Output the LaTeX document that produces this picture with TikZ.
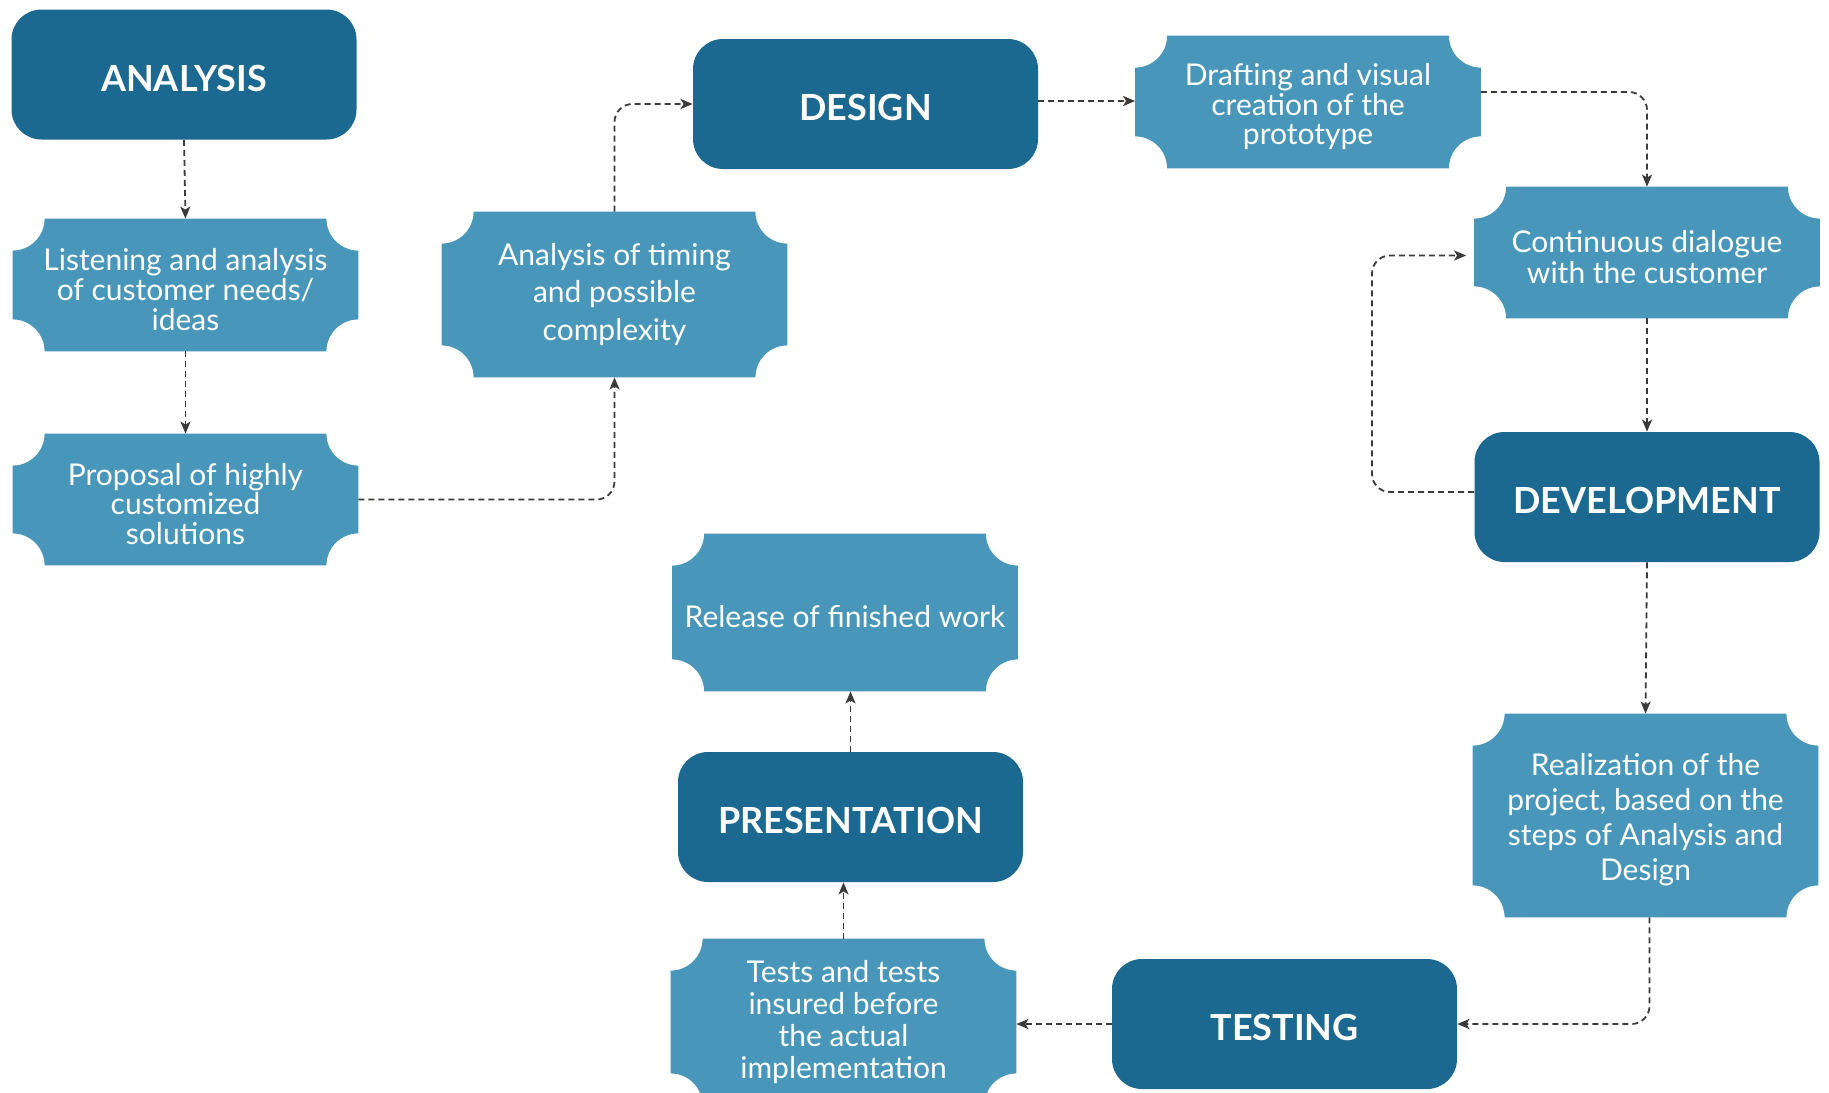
\documentclass[tikz,border=0pt]{standalone}
\usepackage{fontspec}
\setmainfont{Lato}
\usetikzlibrary{arrows.meta,backgrounds}
\definecolor{darkblue}{HTML}{1B6890}
\definecolor{lightblue}{HTML}{4897BA}
\definecolor{arrowgray}{HTML}{3A3A3A}
\newcommand\ticketshape[1]{%
  \fill[lightblue] ([xshift=16pt]#1.north west) -- ([xshift=-16pt]#1.north east)
    arc[start angle=180,end angle=270,radius=16pt]
    -- ([yshift=16pt]#1.south east)
    arc[start angle=90,end angle=180,radius=16pt]
    -- ([xshift=16pt]#1.south west)
    arc[start angle=0,end angle=90,radius=16pt]
    -- ([yshift=-16pt]#1.north west)
    arc[start angle=270,end angle=360,radius=16pt] -- cycle;}
\newcommand\hs{\rule{0pt}{16.9pt}}
\newcommand\ts{\rule{0pt}{15.6pt}}
\begin{document}
\begin{tikzpicture}[x=0.5pt,y=-0.5pt,
  head/.style={fill=darkblue, rounded corners=15pt, text=white,
    font=\bfseries\fontsize{18}{20}\selectfont, minimum width=172.5pt,
    minimum height=65pt, inner sep=0pt},
  ticket/.style={text=white, align=center, font=\fontsize{15}{14.8}\selectfont,
    minimum width=172.5pt, inner sep=0pt},
  conn/.style={draw=arrowgray, line width=0.9pt, dash pattern=on 3pt off 2pt,
    -{Stealth[length=6pt,width=5pt,inset=1.5pt]}, rounded corners=9pt}]
\useasboundingbox (0,0) rectangle (1829,1092);
% main steps
\node[head] (ana) at (184,74.5) {\hs ANALYSIS};
\node[head] (des) at (865.5,104) {\hs DESIGN};
\node[head] (dev) at (1647,497) {\hs DEVELOPMENT};
\node[head] (tst) at (1284.5,1024) {\hs TESTING};
\node[head] (pre) at (850.5,817) {\hs PRESENTATION};
% sub steps
\node[ticket, minimum height=66pt] (lis) at (185.5,285) {\ts Listening and analysis\\of customer needs/\\ideas};
\node[ticket, minimum height=65.5pt] (pro) at (185.5,499.5) {\ts Proposal of highly\\customized\\solutions};
\node[ticket, minimum height=82.5pt, font=\fontsize{15}{18.6}\selectfont] (tim) at (614.5,294.5) {Analysis of timing\\and possible\\complexity};
\node[ticket, minimum height=66pt, font=\fontsize{15}{14.9}\selectfont] (dra) at (1308,102) {\ts Drafting and visual\\creation of the\\prototype};
\node[ticket, minimum height=65.5pt, font=\fontsize{15}{15.2}\selectfont] (con) at (1647,252.5) {\ts Continuous dialogue\\with the customer};
\node[ticket, minimum height=101.5pt, font=\fontsize{15}{17.5}\selectfont] (rea) at (1645.5,815.5) {\ts Realization of the\\project, based on the\\steps of Analysis and\\Design};
\node[ticket, minimum height=83pt, font=\fontsize{15}{16}\selectfont] (tes) at (843.5,1022) {Tests and tests\\insured before\\the actual\\implementation};
\node[ticket, minimum height=78.5pt] (rel) at (845,612.5) {\ts Release of finished work};
\begin{scope}[on background layer]
  \ticketshape{lis}\ticketshape{pro}\ticketshape{tim}\ticketshape{dra}
  \ticketshape{con}\ticketshape{rea}\ticketshape{tes}\ticketshape{rel}
\end{scope}
\coordinate (lp) at (1372,0);
\coordinate (devout) at ([yshift=2.5pt]dev.west);
\coordinate (conin) at ([yshift=-1.5pt]con.west);
\coordinate (desout) at ([yshift=1.5pt]des.east);
\coordinate (reaout) at ([xshift=2pt]rea.south);
% connectors
\draw[conn] (ana.south) -- (lis.north);
\draw[conn] (lis.south) -- (pro.north);
\draw[conn] (pro.east) -| (tim.south);
\draw[conn] (tim.north) |- (des.west);
\draw[conn] (desout) -- (desout -| dra.west);
\draw[conn] ([yshift=5pt]dra.east) -| (con.north);
\draw[conn] (con.south) -- (dev.north);
\draw[conn, shorten >=4pt] (devout) -| (lp |- conin) -- (conin);
\draw[conn] (dev.south) -- (rea.north);
\draw[conn] (reaout) |- (tst.east);
\draw[conn] (tst.west) -- (tst.west -| tes.east);
\draw[conn] (tes.north) -- (tes.north |- pre.south);
\draw[conn] (pre.north) -- (pre.north |- rel.south);
\end{tikzpicture}
\end{document}
